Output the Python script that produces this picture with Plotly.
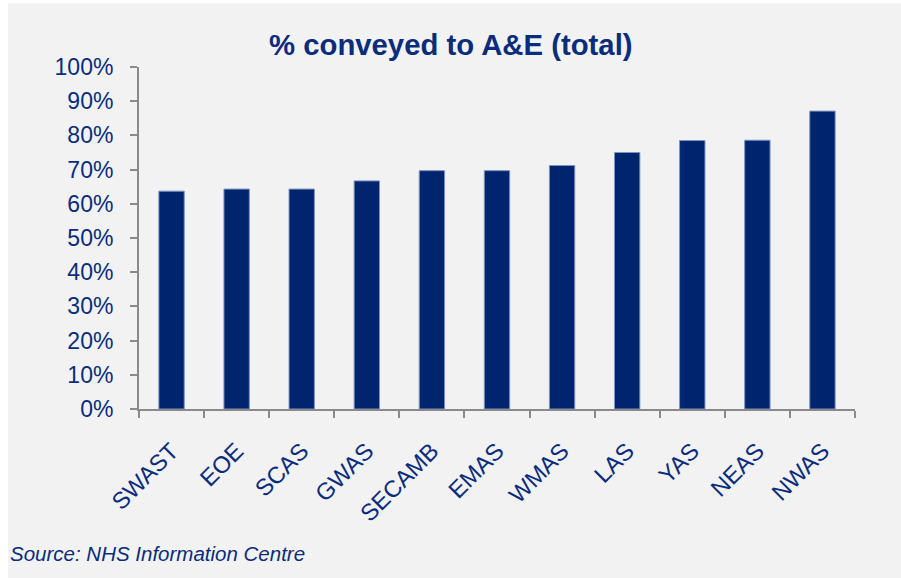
import plotly.graph_objects as go

# Ambulance services and share of incidents conveyed to A&E (%)
services = ["SWAST", "EOE", "SCAS", "GWAS", "SECAMB", "EMAS", "WMAS", "LAS", "YAS", "NEAS", "NWAS"]
conveyed_pct = [63.7, 64.3, 64.3, 66.7, 69.7, 69.7, 71.2, 75.0, 78.5, 78.6, 87.1]
y_ticks = [0, 10, 20, 30, 40, 50, 60, 70, 80, 90, 100]
y_tick_labels = [f"{v}%" for v in y_ticks]

TEXT = "#0A2C7C"
BAR = "#00256F"
AXIS = "#8A8A8A"
BG = "#F2F2F2"
FONT = "Liberation Sans, Arial, sans-serif"

W, H = 901, 578
L, R, T, B = 139, 46, 67, 169
pw, ph = W - L - R, H - T - B

def px_x(p):
    return (p - L) / pw

def px_y(p):
    return 1 - (p - T) / ph

fig = go.Figure(
    go.Bar(
        x=services,
        y=conveyed_pct,
        marker=dict(color=BAR, line=dict(color="#7F93C0", width=1)),
        width=0.39,
    )
)

fig.update_layout(
    width=W,
    height=H,
    margin=dict(l=L, r=R, t=T, b=B, pad=0),
    paper_bgcolor="white",
    plot_bgcolor="rgba(0,0,0,0)",
    showlegend=False,
    font=dict(family=FONT, color=TEXT),
    shapes=[
        # grey panel behind the chart, leaving a thin white strip top and left
        dict(type="rect", xref="paper", yref="paper",
             x0=px_x(8), x1=px_x(W + 2), y0=px_y(H + 2), y1=px_y(3),
             fillcolor=BG, line=dict(width=0), layer="below"),
    ],
    annotations=[
        dict(text="<b>% conveyed to A&E (total)</b>", xref="paper", yref="paper",
             x=px_x(451), y=px_y(45), xanchor="center", yanchor="middle",
             showarrow=False, font=dict(size=29.3, color=TEXT, family=FONT)),
        dict(text="<i>Source: NHS Information Centre</i>", xref="paper", yref="paper",
             x=px_x(8), y=px_y(553), xanchor="left", yanchor="middle",
             showarrow=False, font=dict(size=20.5, color=TEXT, family=FONT)),
    ],
)

fig.update_xaxes(
    showgrid=False,
    showline=True, linecolor=AXIS, linewidth=2,
    ticks="outside", ticklen=7, tickwidth=2, tickcolor=AXIS,
    tickson="boundaries",
    tickangle=-45,
    tickfont=dict(size=23.5, color=TEXT, family=FONT),
    ticklabelstandoff=17,
)

fig.update_yaxes(
    range=[0, 100],
    tickvals=y_ticks,
    ticktext=y_tick_labels,
    showgrid=False, zeroline=False,
    showline=True, linecolor=AXIS, linewidth=2,
    ticks="outside", ticklen=7, tickwidth=2, tickcolor=AXIS,
    tickfont=dict(size=23, color=TEXT, family=FONT),
    ticklabelstandoff=12,
)

fig.write_html("out.html")
